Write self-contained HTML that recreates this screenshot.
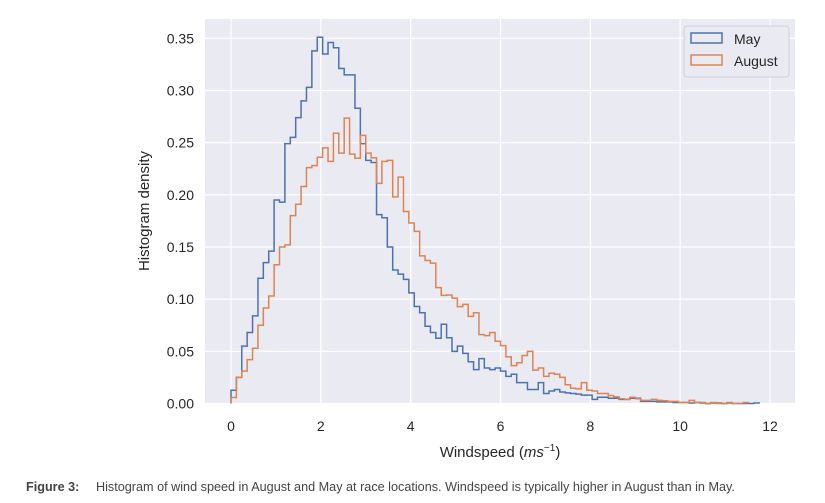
<!DOCTYPE html>
<html><head><meta charset="utf-8">
<style>
html,body{margin:0;padding:0;background:#fff;}
body{width:825px;height:503px;overflow:hidden;position:relative;font-family:"Liberation Sans",sans-serif;}
#caption{position:absolute;left:26px;top:479px;font-family:"Liberation Sans Narrow","Liberation Sans",sans-serif;font-stretch:condensed;font-size:13px;color:#444;white-space:nowrap;transform:scaleX(0.972);transform-origin:0 0;}
#caption b{display:inline-block;width:72px;}
</style></head><body>
<svg id="chart" width="825" height="470" style="position:absolute;left:0;top:0"></svg>
<div id="caption"><b>Figure 3:</b>Histogram of wind speed in August and May at race locations. Windspeed is typically higher in August than in May.</div>
<script>
const binWidth = 0.12;
const mayValues = [0.0127,0.025,0.055,0.068,0.084,0.12,0.135,0.146,0.195,0.193,0.249,0.255,0.274,0.29,0.303,0.338,0.351,0.335,0.346,0.341,0.321,0.315,0.315,0.283,0.249,0.233,0.231,0.181,0.178,0.150,0.128,0.124,0.119,0.106,0.093,0.087,0.074,0.068,0.0625,0.076,0.063,0.05,0.055,0.048,0.040,0.0325,0.043,0.034,0.0325,0.034,0.031,0.026,0.028,0.020,0.020,0.0134,0.0134,0.020,0.0096,0.012,0.0134,0.011,0.0102,0.0096,0.009,0.008,0.008,0.004,0.006,0.006,0.005,0.005,0.004,0.004,0.005,0.005,0.002,0.002,0.002,0.0015,0.0015,0.0015,0.001,0.001,0.001,0.0005,0.001,0.0005,0,0.0005,0.0005,0,0.0005,0,0,0,0,0.0005];
const augValues = [0.0057,0.025,0.031,0.042,0.053,0.075,0.0915,0.103,0.133,0.150,0.152,0.18,0.191,0.208,0.226,0.228,0.236,0.245,0.232,0.259,0.240,0.2735,0.239,0.235,0.257,0.24,0.2355,0.211,0.232,0.233,0.198,0.217,0.184,0.173,0.165,0.1415,0.137,0.1345,0.111,0.1036,0.104,0.101,0.0928,0.095,0.0835,0.087,0.066,0.065,0.068,0.0596,0.0555,0.0447,0.0363,0.039,0.046,0.05,0.032,0.034,0.026,0.029,0.028,0.025,0.018,0.0146,0.014,0.020,0.0127,0.012,0.0096,0.0096,0.0077,0.0064,0.0045,0.004,0.006,0.0045,0.003,0.003,0.004,0.003,0.0026,0.002,0.002,0.001,0.001,0.003,0.001,0.001,0,0.001,0,0,0.001,0,0,0.001];
const xTicks = [0,2,4,6,8,10,12];
const yTicks = [0,0.05,0.10,0.15,0.20,0.25,0.30,0.35];
const yTickLabels = ["0.00","0.05","0.10","0.15","0.20","0.25","0.30","0.35"];

const NS="http://www.w3.org/2000/svg";
const svg=document.getElementById('chart');
const L=205,R=795,T=19,B=403.5;
function xs(v){return 231+v*(770-231)/12;}
function ys(v){return B-v*(B-38.3)/0.35;}
function mk(tag,attrs,parent){const e=document.createElementNS(NS,tag);for(const k in attrs)e.setAttribute(k,attrs[k]);(parent||svg).appendChild(e);return e;}

const bg=mk('rect',{x:L,y:T,width:R-L,height:B-T,fill:'#eaeaf2'});



xTicks.forEach(t=>{
  const g=mk('line',{x1:xs(t),x2:xs(t),y1:T,y2:B,stroke:'#fff','stroke-width':1.2});
  
  
  const tx=mk('text',{x:xs(t),y:431,'text-anchor':'middle','font-size':14,fill:'#262626'});
  tx.textContent=t;
  
  
});
yTicks.forEach((t,i)=>{
  const g=mk('line',{x1:L,x2:R,y1:ys(t),y2:ys(t),stroke:'#fff','stroke-width':1.2});
  
  
  const tx=mk('text',{x:194,y:ys(t)+5,'text-anchor':'end','font-size':14,fill:'#262626'});
  tx.textContent=yTickLabels[i];
  
  
});

function stepPath(vals){
  let d='M'+xs(0)+','+ys(0);
  vals.forEach((v,i)=>{d+=' L'+xs(i*binWidth)+','+ys(v)+' L'+xs((i+1)*binWidth)+','+ys(v);});
  d+=' L'+xs(vals.length*binWidth)+','+ys(0);
  return d;
}
const pm=mk('path',{d:stepPath(mayValues),fill:'none',stroke:'#4c72b0','stroke-width':1.5});


const pa=mk('path',{d:stepPath(augValues),fill:'none',stroke:'#dd8452','stroke-width':1.5});



const xt=mk('text',{x:500,y:457,'text-anchor':'middle','font-size':15,fill:'#262626'});
xt.innerHTML='Windspeed (<tspan font-style="italic">ms</tspan><tspan font-size="10" dy="-6">−1</tspan><tspan dy="6">)</tspan>';


const yt=mk('text',{x:149,y:211,'text-anchor':'middle','font-size':15,fill:'#262626',transform:'rotate(-90 149 211)'});
yt.textContent='Histogram density';



const lg=mk('g',{});


mk('rect',{x:684,y:26,width:105,height:51,rx:3,fill:'#eaeaf2',stroke:'#d0d0d8','stroke-width':1},lg);
const e1=mk('g',{},lg);


mk('rect',{x:691,y:33,width:31,height:10,fill:'none',stroke:'#4c72b0','stroke-width':1.5},e1);
const t1=mk('text',{x:734,y:44,'font-size':14,fill:'#262626'},e1);t1.textContent='May';
const e2=mk('g',{},lg);


mk('rect',{x:691,y:55,width:31,height:10,fill:'none',stroke:'#dd8452','stroke-width':1.5},e2);
const t2=mk('text',{x:734,y:66,'font-size':14,fill:'#262626'},e2);t2.textContent='August';
</script>
</body></html>
